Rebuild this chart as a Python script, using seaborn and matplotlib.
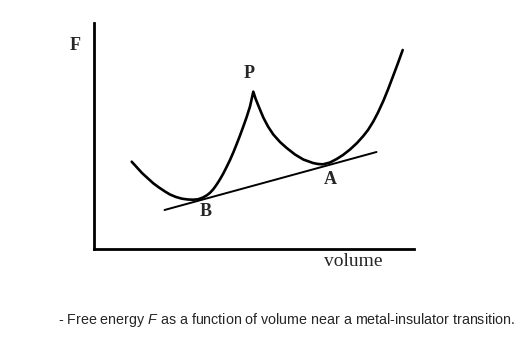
import matplotlib
matplotlib.use("Agg")
import matplotlib.pyplot as plt
import seaborn as sns
import pandas as pd

# Free-energy curve readings (volume, F) in arbitrary units
volume = [37.7, 43, 48, 54, 59.3, 65, 71, 76, 82, 88, 94, 99, 104, 109, 113, 116,
          119.5, 122.7, 126, 129.3, 132.5, 136, 139.5, 142.7, 146, 149.3, 152.5,
          156, 159.3, 161.5, 164.3, 167, 169.3, 174, 179.3, 186, 192.7, 201, 209.3,
          219, 224, 229, 236, 242.7, 249, 256, 263, 269.3, 274, 279.3, 284, 289.3,
          294, 299.3, 304, 308.7]
energy = [87.3, 81.5, 76, 70.5, 65.7, 61.5, 57.5, 54.5, 52, 50.3, 49.5, 49.3, 49.7,
          51.5, 53.8, 56.2, 60, 64.5, 69.7, 75.5, 81.8, 89, 97, 105, 113.5, 122.5,
          131.5, 142.5, 157.3, 150.5, 143.5, 137, 131.5, 122.5, 114.5, 107, 101, 94.5,
          89.5, 86, 85, 84.7, 86.5, 90, 94, 99.5, 106, 113, 119, 127.5, 136.5, 148,
          159.5, 173.5, 186, 199]

# Common tangent line end points
tangent_v = [70.5, 282.5]
tangent_F = [39, 97]

# Point labels
point_names = ["P", "B", "A"]
point_v = [155, 111.5, 236]
point_F = [175.5, 37.5, 69]

x_label = "volume"
y_label = "F"

sns.set_style("white")
plt.rcParams["mathtext.fontset"] = "custom"
plt.rcParams["mathtext.it"] = "Liberation Sans:italic"
plt.rcParams["mathtext.rm"] = "Liberation Sans"

fig = plt.figure(figsize=(5.29, 3.44), dpi=100)
ax = fig.add_axes([94 / 529, 1 - 249 / 344, (414 - 94) / 529, (249 - 23) / 344])

curve = pd.DataFrame({"volume": volume, "F": energy})
tan = pd.DataFrame({"volume": tangent_v, "F": tangent_F})
sns.lineplot(data=curve, x="volume", y="F", sort=False, color="black", lw=1.9, ax=ax)
sns.lineplot(data=tan, x="volume", y="F", sort=False, color="black", lw=1.4, ax=ax)

ax.set_xlim(0, 320)
ax.set_ylim(0, 226)
ax.set_xticks([])
ax.set_yticks([])
ax.set_xlabel("")
ax.set_ylabel("")
for s in ["top", "right"]:
    ax.spines[s].set_visible(False)
for s in ["left", "bottom"]:
    ax.spines[s].set_color("black")
    ax.spines[s].set_linewidth(2.0)

serif = ["Liberation Serif", "DejaVu Serif"]
for name, v, f in zip(point_names, point_v, point_F):
    ax.text(v, f, name, family=serif, fontweight="bold", fontsize=13,
            ha="center", va="center")

ax.text(-19, 204, y_label, family=serif, fontweight="bold", fontsize=13,
        ha="center", va="center", clip_on=False)
ax.text(259, -13, x_label, family=serif, fontsize=14,
        ha="center", va="center", clip_on=False)

fig.text(57.5 / 529, 1 - 320 / 344,
         r"- Free energy $\mathit{F}$ as a function of volume near a metal-insulator transition.",
         family=["Liberation Sans", "DejaVu Sans"], fontsize=10.3, ha="left", va="center")

fig.savefig("out.png", dpi=100, facecolor="white")
